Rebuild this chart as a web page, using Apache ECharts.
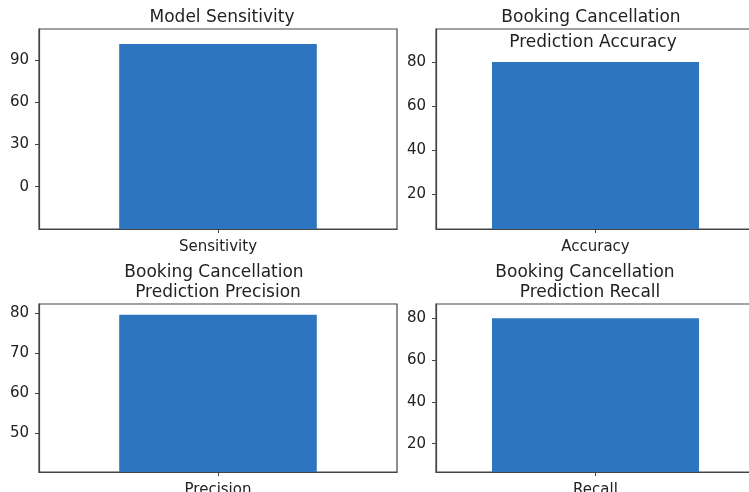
<!DOCTYPE html>
<html>
<head>
<meta charset="utf-8">
<script src="https://cdn.jsdelivr.net/npm/echarts@6/dist/echarts.min.js"></script>
<style>
  html, body { margin: 0; padding: 0; background: #fff; }
  #main { width: 749px; height: 492px; }
</style>
</head>
<body>
<div id="main"></div>
<script>
// data
var categories = ['Sensitivity', 'Accuracy', 'Precision', 'Recall'];
var values = [101.3, 80.0, 79.7, 80.1];
var titles = [
  ['Model Sensitivity'],
  ['Booking Cancellation', 'Prediction Accuracy'],
  ['Booking Cancellation', ' Prediction Precision'],
  ['Booking Cancellation', ' Prediction Recall']
];
var tickLabels = [
  [0, 30, 60, 90],
  [20, 40, 60, 80],
  [50, 60, 70, 80],
  [20, 40, 60, 80]
];
var yMin = [-30, 4, 40.3, 6.4];
var yMax = [112, 95, 82.4, 86.9];

// layout of the 2x2 panels
var grids = [
  { left: 39, top: 29, width: 358, height: 200 },
  { left: 436, top: 29, width: 319, height: 200 },
  { left: 39, top: 304, width: 358, height: 168 },
  { left: 436, top: 304, width: 319, height: 168 }
];
var barFrac = [0.552, 0.649, 0.552, 0.649];
// title line centres [x, y]
var titlePos = [
  [[222, 18]],
  [[591, 18], [593, 43]],
  [[214, 273], [218, 293]],
  [[585, 273], [590, 293]]
];

var textColor = '#222';
var font = 'DejaVu Sans';
var barColor = '#2e75bf';

var myChart = echarts.init(document.getElementById('main'));

var option = {
  animation: false,
  backgroundColor: '#fff',
  grid: [],
  xAxis: [],
  yAxis: [],
  series: [],
  graphic: []
};

for (var i = 0; i < 4; i++) {
  option.grid.push(Object.assign({
    show: true, borderColor: '#444', borderWidth: 1.2, backgroundColor: 'transparent',
    outerBoundsMode: 'none', containLabel: false
  }, grids[i]));

  option.xAxis.push({
    type: 'category',
    gridIndex: i,
    data: [categories[i]],
    axisLine: { show: true, onZero: false, lineStyle: { color: '#444', width: 1.2 } },
    axisTick: { show: true, alignWithLabel: true, length: 4, lineStyle: { color: '#444' } },
    axisLabel: { color: textColor, fontFamily: font, fontSize: 15, margin: 11 },
    splitLine: { show: false }
  });

  option.yAxis.push({
    type: 'value',
    gridIndex: i,
    min: yMin[i],
    max: yMax[i],
    axisLine: { show: true, onZero: false, lineStyle: { color: '#444', width: 1.2 } },
    axisTick: { show: true, length: 4, customValues: tickLabels[i], lineStyle: { color: '#444' } },
    axisLabel: { color: textColor, fontFamily: font, fontSize: 15, margin: 10, customValues: tickLabels[i] },
    splitLine: { show: false }
  });

  (function (idx) {
    option.series.push({
      type: 'custom',
      xAxisIndex: idx,
      yAxisIndex: idx,
      data: [[0, values[idx]]],
      clip: true,
      renderItem: function (params, api) {
        var top = api.coord([api.value(0), api.value(1)]);
        var base = api.coord([api.value(0), yMin[idx]]);
        var w = api.size([1, 0])[0] * barFrac[idx];
        return {
          type: 'rect',
          shape: { x: top[0] - w / 2, y: top[1], width: w, height: base[1] - top[1] },
          style: { fill: barColor }
        };
      }
    });
  })(i);

  titles[i].forEach(function (line, k) {
    option.graphic.push({
      type: 'text',
      x: titlePos[i][k][0],
      y: titlePos[i][k][1],
      z: 10,
      style: {
        text: line.trim(),
        fill: textColor,
        font: '17px "DejaVu Sans"',
        align: 'center',
        verticalAlign: 'middle'
      }
    });
  });
}

myChart.setOption(option);
</script>
</body>
</html>
